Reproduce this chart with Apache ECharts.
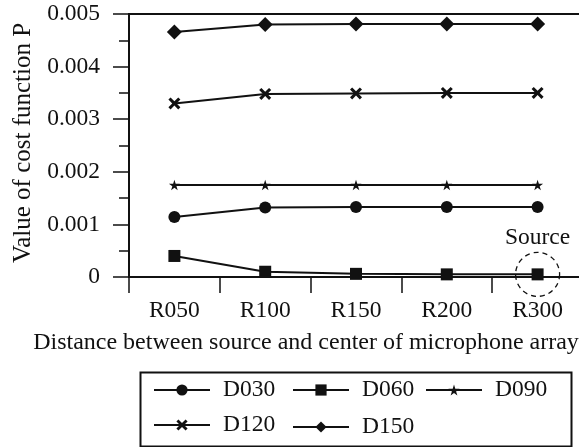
<!DOCTYPE html>
<html>
<head>
<meta charset="utf-8">
<script src="https://cdn.jsdelivr.net/npm/echarts@6/dist/echarts.min.js"></script>
<style>html,body{margin:0;padding:0;background:#fff}#c{width:579px;height:447px}</style>
</head>
<body>
<div id="c"></div>
<script>
const categories = ['R050', 'R100', 'R150', 'R200', 'R300'];
const d030 = [0.00114, 0.00132, 0.00133, 0.00133, 0.00133];
const d060 = [0.00040, 0.00010, 0.00006, 0.00005, 0.00005];
const d090 = [0.00175, 0.00175, 0.00175, 0.00175, 0.00175];
const d120 = [0.00330, 0.00348, 0.00349, 0.00350, 0.00350];
const d150 = [0.00466, 0.00480, 0.00481, 0.00481, 0.00481];
const seriesNames = ['D030', 'D060', 'D090', 'D120', 'D150'];
const yTicks = [0, 0.001, 0.002, 0.003, 0.004, 0.005];

const FONT = 'Liberation Serif';
const FS = 23.5;
const STAR = 'path://M50,0 L61,35 L98,35 L68,57 L79,91 L50,70 L21,91 L32,57 L2,35 L39,35 Z';
const XSYM = 'path://M0,18 L18,0 L50,32 L82,0 L100,18 L68,50 L100,82 L82,100 L50,68 L18,100 L0,82 L32,50 Z';

const chart = echarts.init(document.getElementById('c'), null, {renderer: 'canvas'});

function mkSeries(name, data, symbol, size, extra) {
  return Object.assign({
    name: name, type: 'line', data: data,
    symbol: symbol, symbolSize: size, symbolKeepAspect: true,
    lineStyle: {color: '#111', width: 2},
    itemStyle: {color: '#111'},
    emphasis: {disabled: true}
  }, extra || {});
}

function mkLegend(name, left, top) {
  return {
    data: [name], left: left, top: top, padding: 0,
    itemWidth: 56, itemHeight: 14,
    textStyle: {fontFamily: FONT, fontSize: FS, color: '#111', padding: [0, 0, 0, 8], lineHeight: 24},
    selectedMode: false
  };
}

const option = {
  animation: false,
  backgroundColor: '#fff',
  textStyle: {fontFamily: FONT},
  grid: {left: 129, top: 14, width: 454, bottom: 170, show: true, borderColor: '#111', borderWidth: 2,
    containLabel: false, outerBoundsMode: 'none'},
  xAxis: {
    type: 'category', data: categories, boundaryGap: true,
    axisLine: {lineStyle: {color: '#111', width: 2}},
    axisTick: {show: true, length: 16, lineStyle: {color: '#111', width: 1.5}, alignWithLabel: false},
    axisLabel: {fontFamily: FONT, fontSize: FS, color: '#111', margin: 22},
    splitLine: {show: false},
    name: 'Distance between source and center of microphone array',
    nameLocation: 'middle', nameGap: 54,
    nameTextStyle: {fontFamily: FONT, fontSize: 24, color: '#111', padding: [0, 100, 0, 0]}
  },
  yAxis: {
    type: 'value', min: yTicks[0], max: yTicks[yTicks.length - 1], interval: 0.001,
    axisLine: {show: true, lineStyle: {color: '#111', width: 2}},
    axisTick: {show: true, length: 16, lineStyle: {color: '#111', width: 1.5}},
    minorTick: {show: true, splitNumber: 2, length: 10, lineStyle: {color: '#111', width: 1.5}},
    axisLabel: {fontFamily: FONT, fontSize: FS, color: '#111', margin: 29,
      formatter: v => yTicks.includes(v) ? String(v) : ''},
    splitLine: {show: false},
    name: 'Value of cost function P',
    nameLocation: 'middle', nameGap: 92, nameRotate: 90,
    nameTextStyle: {fontFamily: FONT, fontSize: 25, color: '#111', padding: [0, 0, 0, 5]}
  },
  legend: [
    mkLegend('D030', 153, 378),
    mkLegend('D060', 292, 378),
    mkLegend('D090', 425, 378),
    mkLegend('D120', 153, 413),
    mkLegend('D150', 292, 415)
  ],
  graphic: [{
    type: 'rect', left: 138, top: 370, z: 100,
    shape: {width: 431, height: 74},
    style: {fill: 'none', stroke: '#111', lineWidth: 2}
  }],
  series: [
    mkSeries(seriesNames[0], d030, 'circle', 12),
    mkSeries(seriesNames[1], d060, 'rect', 12, {
      markPoint: {
        symbol: 'circle', symbolSize: 44, silent: true,
        itemStyle: {color: 'rgba(0,0,0,0)', borderColor: '#111', borderWidth: 1.3, borderType: [5, 4]},
        label: {show: true, position: 'top', distance: 2, formatter: 'Source',
          fontFamily: FONT, fontSize: FS, color: '#111'},
        data: [{coord: [categories[4], d060[4]]}]
      }
    }),
    mkSeries(seriesNames[2], d090, STAR, 11),
    mkSeries(seriesNames[3], d120, XSYM, 12),
    mkSeries(seriesNames[4], d150, 'diamond', 15)
  ]
};
chart.setOption(option);
</script>
</body>
</html>
